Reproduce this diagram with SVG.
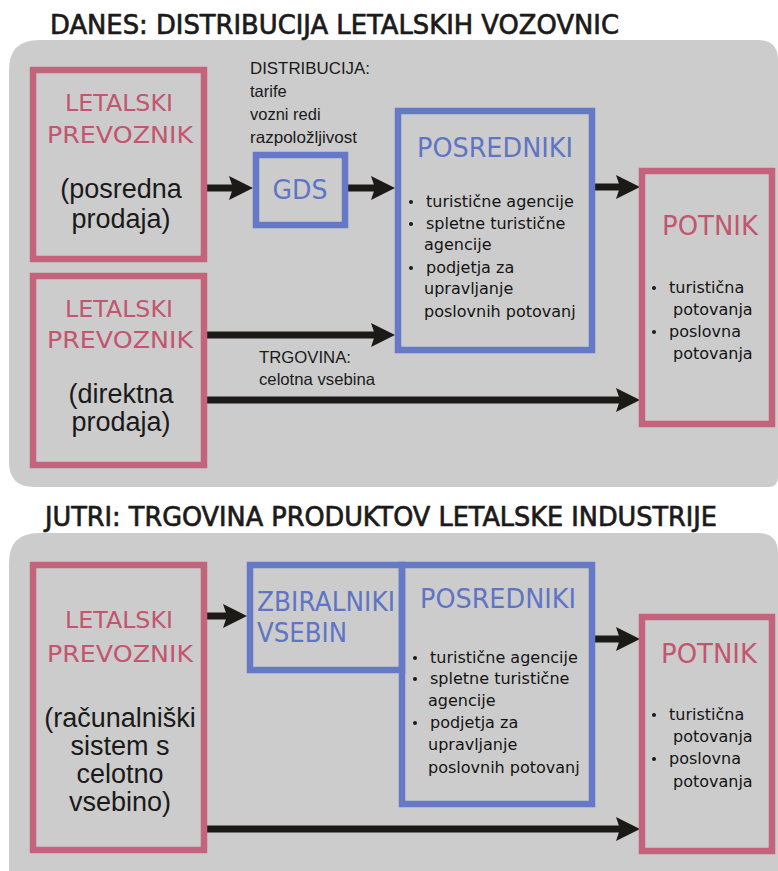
<svg xmlns="http://www.w3.org/2000/svg" width="778" height="871" viewBox="0 0 778 871">
  <style>
    .panel { fill: #cccccc; }
    .title { font-family: "DejaVu Sans", "Liberation Sans", sans-serif; font-size: 26px; fill: #1c1a1a; stroke: #1c1a1a; stroke-width: 0.7; }
    .air { fill: none; stroke: #c4637c; stroke-width: 6.5; }
    .mid { fill: none; stroke: #6579c6; stroke-width: 6.5; }
    .pinkLbl { font-family: "DejaVu Sans", "Liberation Sans", sans-serif; fill: #c2566f; }
    .blueLbl { font-family: "DejaVu Sans", "Liberation Sans", sans-serif; fill: #5f74c4; }
    .sub { font-family: "Liberation Sans", Arial, sans-serif; font-size: 27px; fill: #1a1a1a; text-anchor: middle; }
    .note { font-family: "Liberation Sans", Arial, sans-serif; font-size: 16.5px; fill: #1a1a1a; }
    .item { font-family: "DejaVu Sans", "Liberation Sans", sans-serif; font-size: 16px; fill: #141414; }
    .dot { fill: #1a1a1a; }
    .flow { fill: none; stroke: #1c1a17; stroke-width: 7; marker-end: url(#head); }
  </style>
  <defs>
    <marker id="head" viewBox="0 0 24 24" markerWidth="24" markerHeight="24" markerUnits="userSpaceOnUse" refX="6" refY="12" orient="auto">
      <path d="M0,0 L24,12 L0,24 L4,12 Z" fill="#1c1a17"/>
    </marker>
  </defs>

  <rect width="778" height="871" fill="#ffffff"/>

  <!-- upper panel: today -->
  <g id="panel-today">
    <path class="panel" d="M39,40 H758 Q778,40 778,60 V477 Q778,487 768,487 H34 Q9,487 9,462 V70 Q9,40 39,40 Z"/>
    <text class="title" x="50" y="34" textLength="569" lengthAdjust="spacingAndGlyphs">DANES: DISTRIBUCIJA LETALSKIH VOZOVNIC</text>
  </g>

  <!-- lower panel: tomorrow -->
  <g id="panel-tomorrow">
    <path class="panel" d="M39,533 H758 Q778,533 778,553 V871 H9 V563 Q9,533 39,533 Z"/>
    <text class="title" x="45" y="526" textLength="672" lengthAdjust="spacingAndGlyphs">JUTRI: TRGOVINA PRODUKTOV LETALSKE INDUSTRIJE</text>
  </g>

  <!-- connectors -->
  <g id="connectors">
    <path class="flow" d="M207,188 H235"/>
    <path class="flow" d="M348,188 H377"/>
    <path class="flow" d="M595,187 H622"/>
    <path class="flow" d="M207,335 H377"/>
    <path class="flow" d="M207,400 H622"/>
    <path class="flow" d="M207,616 H229"/>
    <path class="flow" d="M595,639 H622"/>
    <path class="flow" d="M207,829 H622"/>
  </g>

  <!-- connector labels -->
  <g id="label-distribucija">
    <text class="note" x="250" y="74" textLength="120" lengthAdjust="spacingAndGlyphs">DISTRIBUCIJA:</text>
    <text class="note" x="250" y="97">tarife</text>
    <text class="note" x="250" y="120">vozni redi</text>
    <text class="note" x="250" y="143" textLength="107" lengthAdjust="spacingAndGlyphs">razpoložljivost</text>
  </g>
  <g id="label-trgovina">
    <text class="note" x="259" y="363" textLength="92" lengthAdjust="spacingAndGlyphs">TRGOVINA:</text>
    <text class="note" x="259" y="385" textLength="116" lengthAdjust="spacingAndGlyphs">celotna vsebina</text>
  </g>

  <!-- today: airline, indirect sales -->
  <g id="airline-indirect">
    <rect class="air" x="33" y="70" width="171" height="189"/>
    <text class="pinkLbl" x="119" y="111" font-size="23" text-anchor="middle" textLength="108" lengthAdjust="spacingAndGlyphs">LETALSKI</text>
    <text class="pinkLbl" x="120" y="143" font-size="23" text-anchor="middle" textLength="146" lengthAdjust="spacingAndGlyphs">PREVOZNIK</text>
    <text class="sub" x="121" y="198">(posredna</text>
    <text class="sub" x="121" y="228">prodaja)</text>
  </g>

  <!-- today: airline, direct sales -->
  <g id="airline-direct">
    <rect class="air" x="33" y="276" width="171" height="189"/>
    <text class="pinkLbl" x="119" y="317" font-size="23" text-anchor="middle" textLength="108" lengthAdjust="spacingAndGlyphs">LETALSKI</text>
    <text class="pinkLbl" x="120" y="348" font-size="23" text-anchor="middle" textLength="146" lengthAdjust="spacingAndGlyphs">PREVOZNIK</text>
    <text class="sub" x="121" y="403">(direktna</text>
    <text class="sub" x="121" y="431">prodaja)</text>
  </g>

  <!-- today: GDS -->
  <g id="gds">
    <rect class="mid" x="256" y="155" width="89" height="70"/>
    <text class="blueLbl" x="300" y="199" font-size="27" text-anchor="middle" textLength="55" lengthAdjust="spacingAndGlyphs">GDS</text>
  </g>

  <!-- today: intermediaries -->
  <g id="intermediaries-today">
    <rect class="mid" x="398" y="111" width="194" height="239"/>
    <text class="blueLbl" x="495" y="157" font-size="27" text-anchor="middle" textLength="156" lengthAdjust="spacingAndGlyphs">POSREDNIKI</text>
    <circle class="dot" cx="411" cy="202" r="2"/>
    <text class="item" x="426" y="207">turistične agencije</text>
    <circle class="dot" cx="411" cy="224" r="2"/>
    <text class="item" x="426" y="229">spletne turistične</text>
    <text class="item" x="424" y="250">agencije</text>
    <circle class="dot" cx="411" cy="268" r="2"/>
    <text class="item" x="426" y="273">podjetja za</text>
    <text class="item" x="424" y="294">upravljanje</text>
    <text class="item" x="424" y="317">poslovnih potovanj</text>
  </g>

  <!-- today: traveller -->
  <g id="traveller-today">
    <rect class="air" x="642" y="171" width="130" height="253"/>
    <text class="pinkLbl" x="710" y="235" font-size="27" text-anchor="middle" textLength="96" lengthAdjust="spacingAndGlyphs">POTNIK</text>
    <circle class="dot" cx="654" cy="288" r="2"/>
    <text class="item" x="669" y="293">turistična</text>
    <text class="item" x="673" y="315">potovanja</text>
    <circle class="dot" cx="654" cy="332" r="2"/>
    <text class="item" x="669" y="337">poslovna</text>
    <text class="item" x="673" y="359">potovanja</text>
  </g>

  <!-- tomorrow: airline with full content -->
  <g id="airline-tomorrow">
    <rect class="air" x="33" y="565" width="171" height="285"/>
    <text class="pinkLbl" x="119" y="628" font-size="23" text-anchor="middle" textLength="108" lengthAdjust="spacingAndGlyphs">LETALSKI</text>
    <text class="pinkLbl" x="120" y="662" font-size="23" text-anchor="middle" textLength="146" lengthAdjust="spacingAndGlyphs">PREVOZNIK</text>
    <text class="sub" x="120" y="727" font-size="24">(računalniški</text>
    <text class="sub" x="120" y="755" font-size="24">sistem s</text>
    <text class="sub" x="120" y="783" font-size="24">celotno</text>
    <text class="sub" x="120" y="811" font-size="24">vsebino)</text>
  </g>

  <!-- tomorrow: content aggregators -->
  <g id="aggregators">
    <rect class="mid" x="250" y="565" width="152" height="105"/>
    <text class="blueLbl" x="257" y="611" font-size="27" textLength="138" lengthAdjust="spacingAndGlyphs">ZBIRALNIKI</text>
    <text class="blueLbl" x="257" y="642" font-size="27" textLength="90" lengthAdjust="spacingAndGlyphs">VSEBIN</text>
  </g>

  <!-- tomorrow: intermediaries -->
  <g id="intermediaries-tomorrow">
    <rect class="mid" x="402" y="565" width="190" height="239"/>
    <text class="blueLbl" x="498" y="608" font-size="27" text-anchor="middle" textLength="156" lengthAdjust="spacingAndGlyphs">POSREDNIKI</text>
    <circle class="dot" cx="415" cy="658" r="2"/>
    <text class="item" x="430" y="663">turistične agencije</text>
    <circle class="dot" cx="415" cy="679" r="2"/>
    <text class="item" x="430" y="684">spletne turistične</text>
    <text class="item" x="428" y="706">agencije</text>
    <circle class="dot" cx="415" cy="723" r="2"/>
    <text class="item" x="430" y="728">podjetja za</text>
    <text class="item" x="428" y="750">upravljanje</text>
    <text class="item" x="428" y="773">poslovnih potovanj</text>
  </g>

  <!-- tomorrow: traveller -->
  <g id="traveller-tomorrow">
    <rect class="air" x="642" y="617" width="130" height="234"/>
    <text class="pinkLbl" x="709" y="663" font-size="27" text-anchor="middle" textLength="96" lengthAdjust="spacingAndGlyphs">POTNIK</text>
    <circle class="dot" cx="654" cy="715" r="2"/>
    <text class="item" x="669" y="720">turistična</text>
    <text class="item" x="673" y="742">potovanja</text>
    <circle class="dot" cx="654" cy="759" r="2"/>
    <text class="item" x="669" y="764">poslovna</text>
    <text class="item" x="673" y="787">potovanja</text>
  </g>
</svg>
